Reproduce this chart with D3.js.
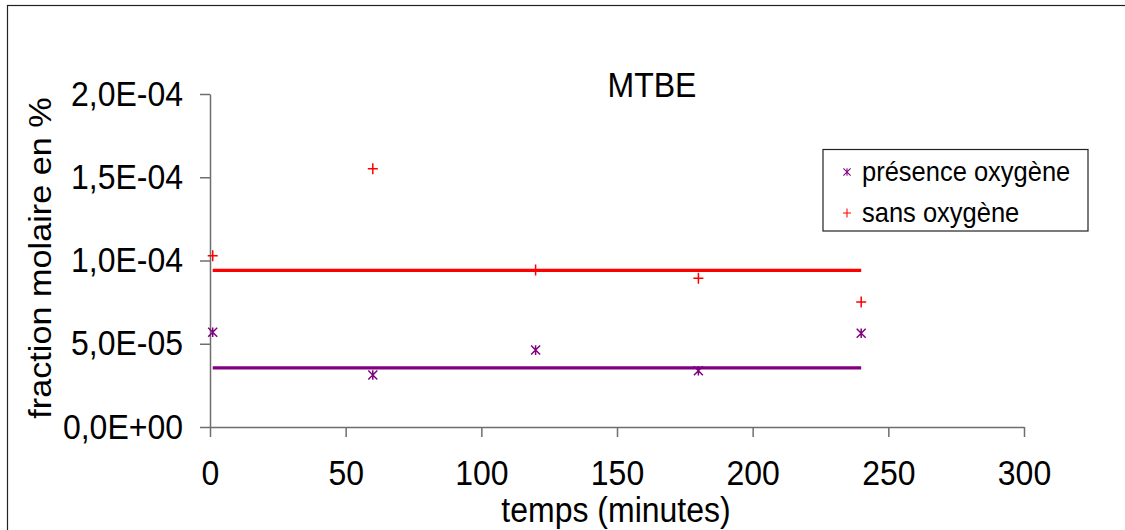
<!DOCTYPE html>
<html>
<head>
<meta charset="utf-8">
<script src="https://cdn.jsdelivr.net/npm/d3@7"></script>
<style>
  body { margin: 0; background: #fff; }
  svg { display: block; }
  text { font-family: "Liberation Sans", Arial, sans-serif; fill: #000; }
</style>
</head>
<body>
<svg id="chart" width="1125" height="530"></svg>
<script>
// ---- data ----
const times = [1, 60, 120, 180, 240];
const presenceOxygene = [5.69e-5, 3.12e-5, 4.62e-5, 3.38e-5, 5.63e-5];
const sansOxygene = [1.029e-4, 1.551e-4, 9.43e-5, 8.93e-5, 7.51e-5];
const lineRange = [1, 240];
const presenceLevel = 3.55e-5;
const sansLevel = 9.41e-5;
const xTicks = [0, 50, 100, 150, 200, 250, 300];
const yTicks = [0, 5e-5, 1e-4, 1.5e-4, 2e-4];
const seriesNames = ["présence oxygène", "sans oxygène"];
const titleText = "MTBE";
const xLabel = "temps (minutes)";
const yLabel = "fraction molaire en %";

const colPurple = "#800080";
const colRed = "#ff0000";
const VS = 1.07; // vertical stretch of glyphs seen in the reference

const svg = d3.select("#chart");

// outer frame
svg.append("rect")
  .attr("x", 7.5).attr("y", 5.5)
  .attr("width", 1130).attr("height", 540)
  .attr("fill", "none").attr("stroke", "#222").attr("stroke-width", 1.2);

const x = d3.scaleLinear().domain([0, 300]).range([210, 1024]);
const y = d3.scaleLinear().domain([0, 2e-4]).range([427, 94]);

function fmtE(v) {
  if (v === 0) return "0,0E+00";
  const s = v.toExponential(1);
  const [m, e] = s.split("e");
  const ei = parseInt(e, 10);
  const sign = ei < 0 ? "-" : "+";
  const ea = String(Math.abs(ei)).padStart(2, "0");
  return m.replace(".", ",") + "E" + sign + ea;
}

// axes
const xAxis = d3.axisBottom(x).tickValues(xTicks).tickFormat(d3.format("d"))
  .tickSize(10).tickSizeOuter(0).tickPadding(26);
const yAxis = d3.axisLeft(y).tickValues(yTicks).tickFormat(fmtE)
  .tickSize(10).tickSizeOuter(0).tickPadding(17);

const gx = svg.append("g").attr("transform", "translate(0,427)").call(xAxis);
const gy = svg.append("g").attr("transform", "translate(210,0)").call(yAxis);
[gx, gy].forEach(g => {
  g.selectAll("path.domain").attr("stroke", "#6e6e6e").attr("stroke-width", 1.5);
  g.selectAll(".tick line").attr("stroke", "#6e6e6e").attr("stroke-width", 1.5);
  g.selectAll(".tick text")
    .attr("font-family", "'Liberation Sans', Arial, sans-serif")
    .attr("font-size", 32).attr("fill", "#000");
});
gx.selectAll(".tick text")
  .attr("dy", null).attr("y", 0)
  .attr("transform", `translate(0,58) scale(1,${VS})`);
gy.selectAll(".tick text")
  .attr("dy", null).attr("y", 0).attr("x", 0)
  .attr("transform", `translate(-27,11) scale(1,${VS})`);

// horizontal level lines
svg.append("line")
  .attr("x1", x(lineRange[0])).attr("x2", x(lineRange[1]))
  .attr("y1", y(sansLevel)).attr("y2", y(sansLevel))
  .attr("stroke", colRed).attr("stroke-width", 3.2);
svg.append("line")
  .attr("x1", x(lineRange[0])).attr("x2", x(lineRange[1]))
  .attr("y1", y(presenceLevel)).attr("y2", y(presenceLevel))
  .attr("stroke", colPurple).attr("stroke-width", 3.2);

// markers
const starPath = "M-4.5,-4.5L4.5,4.5M-4.5,4.5L4.5,-4.5M0,-4.8L0,4.8";
const plusPath = "M-5,0L5,0M0,-5.5L0,5.5";

svg.append("g").selectAll("path")
  .data(times.map((t, i) => [t, presenceOxygene[i]]))
  .join("path")
  .attr("d", starPath)
  .attr("transform", d => `translate(${x(d[0])},${y(d[1])})`)
  .attr("stroke", colPurple).attr("stroke-width", 1.5).attr("fill", "none");

svg.append("g").selectAll("path")
  .data(times.map((t, i) => [t, sansOxygene[i]]))
  .join("path")
  .attr("d", plusPath)
  .attr("transform", d => `translate(${x(d[0])},${y(d[1])})`)
  .attr("stroke", colRed).attr("stroke-width", 1.5).attr("fill", "none");

function stretchedText(tx, ty, str, size, anchor, rot) {
  return svg.append("text")
    .attr("transform", `translate(${tx},${ty}) scale(1,${VS})` + (rot ? ` rotate(${rot})` : ""))
    .attr("text-anchor", anchor).attr("font-size", size)
    .text(str);
}

// title
stretchedText(652, 97, titleText, 32, "middle");
// axis labels
stretchedText(616, 522, xLabel, 32, "middle");
stretchedText(51, 258, yLabel, 32, "middle", -90);

// legend
const lg = svg.append("g");
lg.append("rect")
  .attr("x", 823).attr("y", 149.5).attr("width", 265).attr("height", 81.5)
  .attr("fill", "#fff").attr("stroke", "#222").attr("stroke-width", 1.2);
const legendItems = [
  { name: seriesNames[0], path: starPath, color: colPurple, cy: 172 },
  { name: seriesNames[1], path: plusPath, color: colRed, cy: 213 }
];
legendItems.forEach(it => {
  lg.append("path").attr("d", it.path)
    .attr("stroke", it.color).attr("stroke-width", 1.3).attr("fill", "none")
    .attr("transform", `translate(847,${it.cy}) scale(0.8)`);
  lg.append("text")
    .attr("transform", `translate(862,${it.cy + 9}) scale(1,${VS})`)
    .attr("font-size", 25.5)
    .text(it.name);
});
</script>
</body>
</html>
